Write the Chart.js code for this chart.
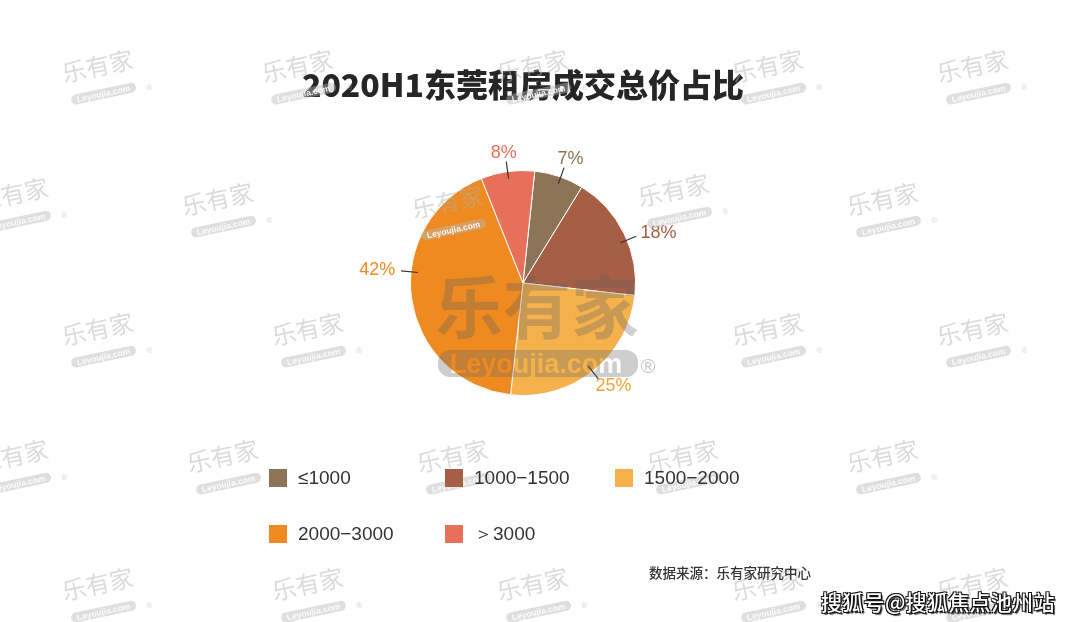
<!DOCTYPE html>
<html>
<head>
<meta charset="utf-8">
<script src="https://cdn.jsdelivr.net/npm/chart.js@4.4.1/dist/chart.umd.min.js"></script>
<style>
  body { margin: 0; background: #fff; }
  #wrap { position: relative; width: 1080px; height: 622px; overflow: hidden; font-family: "Noto Sans CJK SC", sans-serif; }
  #c { position: absolute; left: 0; top: 0; }
  #title { position: absolute; left: 0; top: 62px; width: 1046px; text-align: center; font-size: 32px; font-weight: 900; color: #262626; line-height: 42px; }
  .lg { position: absolute; height: 20px; display: flex; align-items: center; font-family: "Liberation Sans", Arial, sans-serif; font-size: 19px; color: #333; white-space: nowrap; }
  .lg i { display: inline-block; width: 18px; height: 18px; margin-right: 11px; }
  #source { position: absolute; left: 649px; top: 562px; font-size: 13.5px; color: #333; font-weight: 500; }
  #sohu { position: absolute; left: 821px; top: 586px; font-size: 21px; font-weight: 500; color: #fff; letter-spacing: 0.3px;
          text-shadow: 1px 1px 0 #111, -1px -1px 0 #111, 1px -1px 0 #111, -1px 1px 0 #111, 2px 2px 1px #444; }
  .wm { position: absolute; width: 90px; text-align: center; transform: rotate(-12deg); pointer-events: none; }
  .wm b { display: block; font-size: 24px; line-height: 26px; font-weight: 400; color: rgba(175,175,175,0.45); }
  .wm span { display: inline-block; margin-top: 1px; padding: 0 6px; border-radius: 5px; background: rgba(185,185,185,0.45); color: rgba(255,255,255,0.9); font-family: "Liberation Sans", sans-serif; font-size: 8.5px; line-height: 10px; font-weight: 700; }
  .wm em { position: absolute; right: -4px; bottom: 0; font-style: normal; font-size: 8px; color: rgba(175,175,175,0.5); font-family: "Liberation Sans", sans-serif; }
  #bigwm { position: absolute; left: 0; top: 0; pointer-events: none; }
</style>
</head>
<body>
<div id="wrap">
  <canvas id="c" width="1080" height="622"></canvas>
  <div id="title">2020H1东莞租房成交总价占比</div>
  <svg id="bigwm" width="1080" height="622">
    <mask id="pillMask">
      <rect x="438" y="350" width="200" height="27" rx="12" fill="#fff"/>
      <text x="536" y="373" text-anchor="middle" font-family="Liberation Sans, sans-serif" font-weight="700" font-size="27" fill="#000">Leyoujia.com</text>
    </mask>
    <rect x="438" y="350" width="200" height="27" fill="rgba(105,105,105,0.33)" mask="url(#pillMask)"/>
    <text x="537" y="333" text-anchor="middle" font-family="Noto Sans CJK SC" font-weight="700" font-size="68" fill="rgba(95,95,95,0.30)">乐有家</text>
    <text x="648" y="373" text-anchor="middle" font-family="Liberation Sans, sans-serif" font-size="20" fill="rgba(150,150,150,0.55)">®</text>
  </svg>
  <div id="source">数据来源：乐有家研究中心</div>
  <div id="sohu">搜狐号@搜狐焦点池州站</div>
</div>
<script>
// price bands (yuan / month) and their share of deals, %
const categories = ['≤1000', '1000−1500', '1500−2000', '2000−3000', '＞3000'];
const shares = [7.1, 18.0, 25.0, 42.2, 7.7];
const sliceColors = ['#8C7457', '#A65E45', '#F5B24C', '#EE8A1F', '#E8705A'];
const labelColors = ['#8C7457', '#A65E45', '#F2A43C', '#EE8A1F', '#E8705A'];
// how far (deg) each label sits past its slice middle, as in the original
const labelNudge = [0.8, 3.6, 0.5, 13.4, 0];

// watermark centres (decoration only)
const watermarkSpots = [
    [100, 72], [300, 72], [535, 72], [770, 72], [975, 72],
    [15, 200], [220, 205], [450, 208], [676, 196], [885, 205],
    [100, 335], [310, 335], [770, 335], [975, 335],
    [15, 462], [225, 462], [455, 462], [685, 462], [885, 462],
    [100, 590], [310, 590], [535, 590], [770, 590], [975, 590]
];

const wrap = document.getElementById('wrap');
watermarkSpots.forEach(([x, y]) => {
    const el = document.createElement('div');
    el.className = 'wm';
    el.style.left = (x - 45) + 'px';
    el.style.top = (y - 20) + 'px';
    el.innerHTML = '<b>乐有家</b><span>Leyoujia.com</span><em>®</em>';
    wrap.insertBefore(el, document.getElementById('source'));
});

// legend laid out in a 3-column grid like the original
const legendCols = [269, 445, 615];
const legendRows = [468, 524];
categories.forEach((name, i) => {
    const el = document.createElement('div');
    el.className = 'lg';
    el.style.left = legendCols[i % 3] + 'px';
    el.style.top = legendRows[Math.floor(i / 3)] + 'px';
    el.innerHTML = `<i style="background:${sliceColors[i]}"></i>${name}`;
    wrap.appendChild(el);
});

// percent labels outside the pie with short leader lines
const outsideLabels = {
    id: 'outsideLabels',
    afterDatasetsDraw(chart) {
        const ctx = chart.ctx;
        const arcs = chart.getDatasetMeta(0).data;
        ctx.save();
        ctx.font = '18px "Liberation Sans", Arial, sans-serif';
        ctx.textAlign = 'center';
        ctx.textBaseline = 'middle';
        arcs.forEach((arc, i) => {
            const p = arc.getProps(['x', 'y', 'startAngle', 'endAngle', 'outerRadius'], true);
            const mid = (p.startAngle + p.endAngle) / 2 + labelNudge[i] * Math.PI / 180;
            const ux = Math.cos(mid), uy = Math.sin(mid);
            const r0 = p.outerRadius - 7, r1 = p.outerRadius + 10;
            ctx.strokeStyle = '#333';
            ctx.lineWidth = 1.2;
            ctx.beginPath();
            ctx.moveTo(p.x + ux * r0, p.y + uy * r0);
            ctx.lineTo(p.x + ux * r1, p.y + uy * r1);
            ctx.stroke();
            const text = Math.round(shares[i]) + '%';
            const tw = ctx.measureText(text).width;
            const tx = p.x + ux * r1 + ux * (tw / 2 + 6);
            const ty = p.y + uy * r1 + uy * 9;
            ctx.fillStyle = labelColors[i];
            ctx.fillText(text, tx, ty);
        });
        ctx.restore();
    }
};

new Chart(document.getElementById('c'), {
    type: 'pie',
    data: {
        labels: categories,
        datasets: [{
            data: shares,
            backgroundColor: sliceColors,
            borderColor: '#ffffff',
            borderWidth: 1
        }]
    },
    options: {
        responsive: false,
        animation: false,
        events: [],
        rotation: 6,
        layout: { padding: { left: 410, right: 444, top: 170, bottom: 226 } },
        plugins: {
            legend: { display: false },
            title: { display: false },
            tooltip: { enabled: false }
        }
    },
    plugins: [outsideLabels]
});
</script>
</body>
</html>
